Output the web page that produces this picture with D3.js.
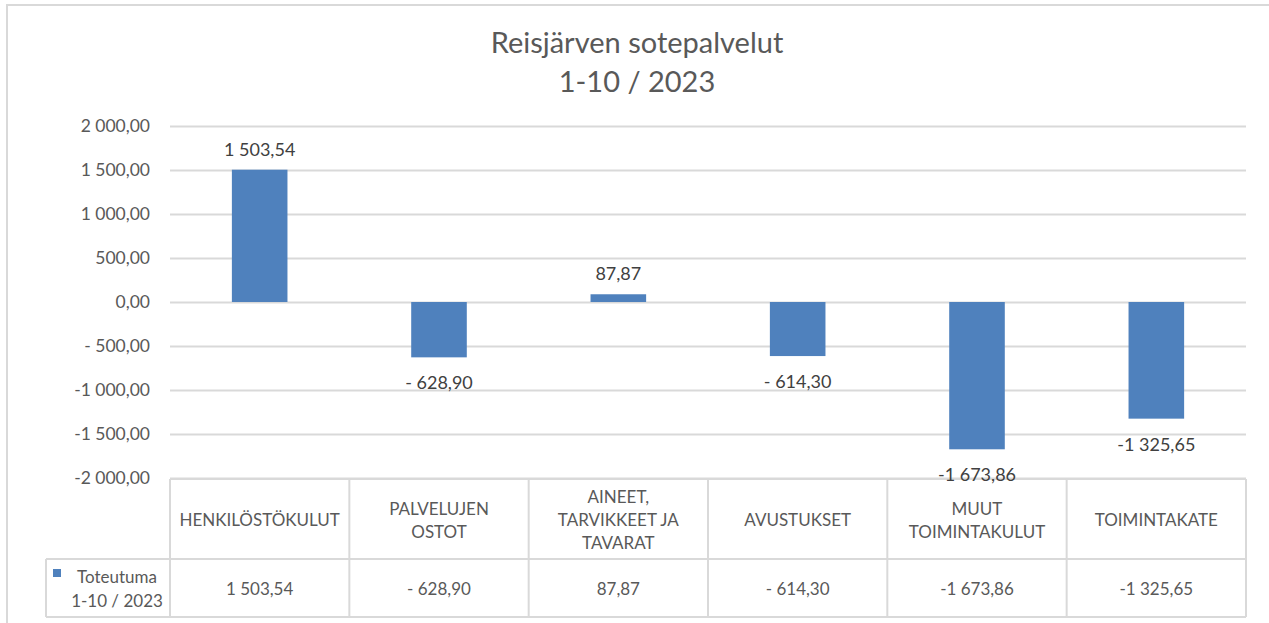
<!DOCTYPE html>
<html>
<head>
<meta charset="utf-8">
<script src="https://cdn.jsdelivr.net/npm/d3@7"></script>
<style>
  body { margin: 0; background: #fff; }
  svg { font-family: Lato, "Open Sans", sans-serif; }
</style>
</head>
<body>
<div id="chart"></div>
<script>
// data
var categories = ["HENKILÖSTÖKULUT", "PALVELUJEN\nOSTOT", "AINEET,\nTARVIKKEET JA\nTAVARAT",
                  "AVUSTUKSET", "MUUT\nTOIMINTAKULUT", "TOIMINTAKATE"];
var values = [1503.54, -628.90, 87.87, -614.30, -1673.86, -1325.65];
var yTicks = [-2000, -1500, -1000, -500, 0, 500, 1000, 1500, 2000];
var seriesName = ["Toteutuma", "1-10 / 2023"];
var titleLines = ["Reisjärven sotepalvelut", "1-10 / 2023"];

var width = 1269, height = 623;
var textColor = "#595959", lineColor = "#d9d9d9", barColor = "#4f81bd";

// finnish style number: "1 503,54", "- 628,90", "-1 673,86"
function fmt(v) {
    var a = Math.abs(v);
    var parts = a.toFixed(2).split(".");
    var intPart = parts[0].replace(/\B(?=(\d{3})+(?!\d))/g, " ");
    var s = intPart + "," + parts[1];
    if (v < 0) s = (a < 1000 ? "- " : "-") + s;
    return s;
}

var svg = d3.select("#chart").append("svg")
    .attr("width", width)
    .attr("height", height);

//outer chart border
svg.append("rect")
    .attr("x", 7).attr("y", 5)
    .attr("width", width + 20).attr("height", height + 20)
    .attr("fill", "#fff")
    .attr("stroke", lineColor)
    .attr("stroke-width", 2);

//title
svg.append("text")
    .attr("text-anchor", "middle")
    .style("font-size", "29px")
    .style("fill", textColor)
    .selectAll("tspan")
    .data(titleLines).enter()
    .append("tspan")
    .attr("x", 637)
    .attr("y", function(d, i) { return 53 + i * 39; })
    .text(function(d) { return d; });

var plotLeft = 170, plotRight = 1246;

var x = d3.scaleBand()
    .domain(categories)
    .range([plotLeft, plotRight]);

var y = d3.scaleLinear()
    .domain([-2000, 2000])
    .range([478, 126]);

//gridlines
svg.append("g")
    .attr("class", "grid")
    .attr("transform", "translate(" + plotLeft + ",0)")
    .call(d3.axisLeft(y).tickValues(yTicks).tickSize(-(plotRight - plotLeft)).tickFormat(""))
    .call(function(g) { g.select(".domain").remove(); })
    .selectAll("line")
    .attr("stroke", lineColor)
    .attr("stroke-width", 2);

//y axis labels
svg.append("g")
    .attr("class", "y-axis")
    .attr("transform", "translate(" + plotLeft + ",0)")
    .call(d3.axisLeft(y).tickValues(yTicks).tickSize(0).tickPadding(20).tickFormat(fmt))
    .call(function(g) { g.select(".domain").remove(); })
    .selectAll("text")
    .attr("fill", textColor)
    .style("font-family", "Lato, sans-serif")
    .style("font-size", "17.5px");

//bars
var barW = x.bandwidth() * 0.31;
svg.append("g").attr("class", "bars")
    .selectAll("rect")
    .data(values).enter()
    .append("rect")
    .attr("x", function(d, i) { return x(categories[i]) + (x.bandwidth() - barW) / 2; })
    .attr("y", function(d) { return y(Math.max(0, d)); })
    .attr("width", barW)
    .attr("height", function(d) { return Math.abs(y(d) - y(0)); })
    .attr("fill", barColor);

//data table
var tableTop = 479, rowMid = 559, tableBottom = 617, legendLeft = 46;
var table = svg.append("g").attr("class", "table")
    .attr("stroke", lineColor)
    .attr("stroke-width", 2);

table.append("line").attr("x1", plotLeft).attr("x2", plotRight).attr("y1", tableTop).attr("y2", tableTop);
table.append("line").attr("x1", legendLeft).attr("x2", plotRight).attr("y1", rowMid).attr("y2", rowMid);
table.append("line").attr("x1", legendLeft).attr("x2", plotRight).attr("y1", tableBottom).attr("y2", tableBottom);
table.append("line").attr("x1", legendLeft).attr("x2", legendLeft).attr("y1", rowMid).attr("y2", tableBottom);
table.selectAll("line.col")
    .data(categories.concat(["end"])).enter()
    .append("line")
    .attr("class", "col")
    .attr("x1", function(d, i) { return plotLeft + i * x.bandwidth(); })
    .attr("x2", function(d, i) { return plotLeft + i * x.bandwidth(); })
    .attr("y1", tableTop).attr("y2", tableBottom);

//category headers
var lineH = 23;
svg.append("g").attr("class", "headers")
    .selectAll("text")
    .data(categories).enter()
    .append("text")
    .attr("text-anchor", "middle")
    .attr("dominant-baseline", "central")
    .style("font-size", "17px")
    .style("fill", textColor)
    .each(function(d) {
        var lines = d.split("\n");
        var cx = x(d) + x.bandwidth() / 2;
        var top = (tableTop + rowMid) / 2 - (lines.length - 1) * lineH / 2;
        d3.select(this).selectAll("tspan")
            .data(lines).enter()
            .append("tspan")
            .attr("x", cx)
            .attr("y", function(l, j) { return top + j * lineH; })
            .text(function(l) { return l; });
    });

//values row
svg.append("g").attr("class", "table-values")
    .selectAll("text")
    .data(values).enter()
    .append("text")
    .attr("x", function(d, i) { return x(categories[i]) + x.bandwidth() / 2; })
    .attr("y", (rowMid + tableBottom) / 2)
    .attr("text-anchor", "middle")
    .attr("dominant-baseline", "central")
    .style("font-size", "17px")
    .style("fill", textColor)
    .text(fmt);

//legend key in table
svg.append("rect")
    .attr("x", 53).attr("y", 569)
    .attr("width", 8).attr("height", 8)
    .attr("fill", barColor);
svg.append("g").attr("class", "legend")
    .selectAll("text")
    .data(seriesName).enter()
    .append("text")
    .attr("x", 117)
    .attr("y", function(d, i) { return 576 + i * 24; })
    .attr("text-anchor", "middle")
    .attr("dominant-baseline", "central")
    .style("font-size", "17px")
    .style("fill", textColor)
    .text(function(d) { return d; });

//data labels
svg.append("g").attr("class", "labels")
    .selectAll("text")
    .data(values).enter()
    .append("text")
    .attr("x", function(d, i) { return x(categories[i]) + x.bandwidth() / 2; })
    .attr("y", function(d) { return d >= 0 ? y(d) - 21 : y(d) + 25; })
    .attr("text-anchor", "middle")
    .attr("dominant-baseline", "central")
    .style("font-size", "18px")
    .style("fill", "#404040")
    .text(fmt);
</script>
</body>
</html>
